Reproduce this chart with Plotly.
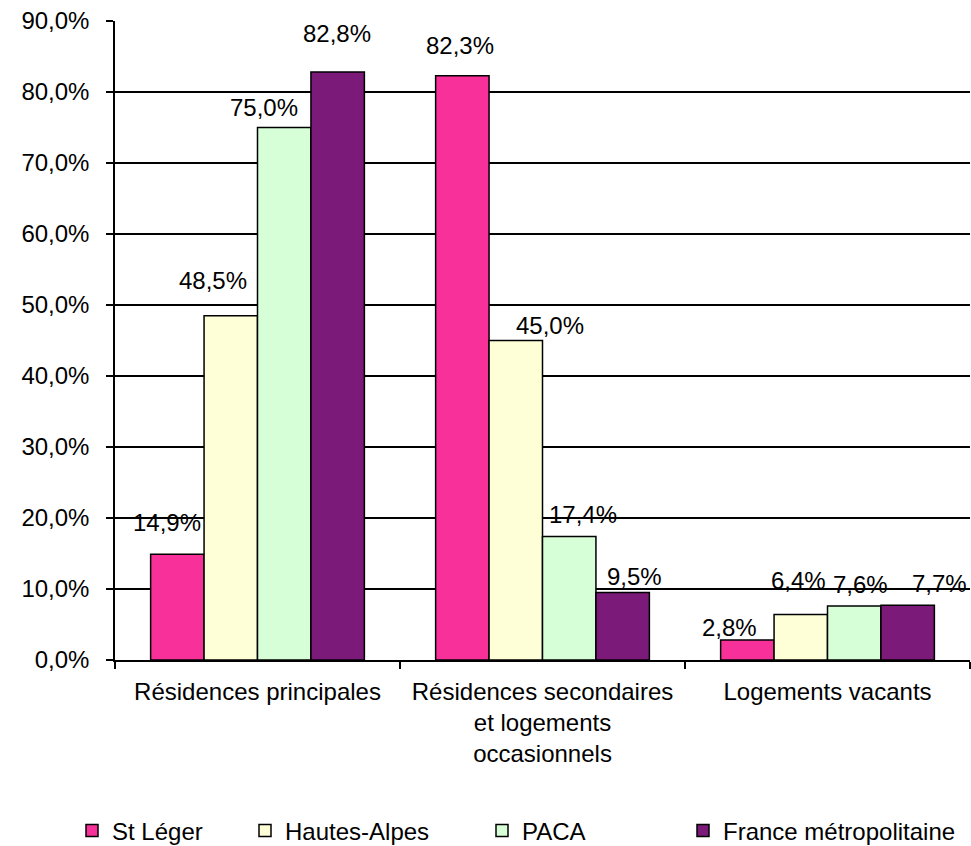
import plotly.graph_objects as go

categories = [
    "Résidences principales",
    "Résidences secondaires<br>et logements<br>occasionnels",
    "Logements vacants",
]
series_names = ["St Léger", "Hautes-Alpes", "PACA", "France métropolitaine"]
st_leger = [0.149, 0.823, 0.028]
hautes_alpes = [0.485, 0.450, 0.064]
paca = [0.750, 0.174, 0.076]
france = [0.828, 0.095, 0.077]
series_values = [st_leger, hautes_alpes, paca, france]
y_ticks = [0, 0.1, 0.2, 0.3, 0.4, 0.5, 0.6, 0.7, 0.8, 0.9]

colors = ["#F7309A", "#FFFFD7", "#D7FFD7", "#7B1A78"]

# label placement offsets in pixels (style), per series then category
label_dx = [[-10, -2, -18], [-18, 34, -2], [-20, 14, 6], [-1, 12, 32]]
label_dy = [[32, 30, 13], [35, 15, 34], [20, 22, 22], [39, 16, 22]]
# legend entry left edges in pixels (style)
legend_px = [72, 245, 482, 683]

FONT = "Liberation Sans, Arial, sans-serif"
FS = 24

W, H = 971, 846
ML, MR, MT, MB = 115, 1, 21, 186
plot_w = W - ML - MR
plot_h = H - MT - MB
bargap = 0.25
bar_px = plot_w / len(categories) * (1 - bargap) / len(series_names)
legend_y = -(831 - (H - MB)) / plot_h

fig = go.Figure()
legend_ids = ["legend", "legend2", "legend3", "legend4"]
for i, (name, vals) in enumerate(zip(series_names, series_values)):
    fig.add_trace(go.Bar(
        name=name, x=categories, y=vals,
        marker=dict(color=colors[i], line=dict(color="black", width=1.5)),
        legend=legend_ids[i],
    ))

annotations = []
for i, vals in enumerate(series_values):
    for j, v in enumerate(vals):
        annotations.append(dict(
            x=categories[j], y=v, xref="x", yref="y",
            text=f"{v*100:.1f}%".replace(".", ","),
            showarrow=False, xanchor="center", yanchor="middle",
            xshift=(i - (len(series_names) - 1) / 2) * bar_px + label_dx[i][j],
            yshift=label_dy[i][j],
            font=dict(family=FONT, size=FS, color="black"),
        ))

legend_layout = {}
for i, lid in enumerate(legend_ids):
    legend_layout[lid] = dict(
        orientation="h", x=(legend_px[i] - ML) / plot_w, xanchor="left",
        y=legend_y, yanchor="middle",
        font=dict(family=FONT, size=FS, color="black"),
        itemwidth=30, bgcolor="rgba(0,0,0,0)",
    )

fig.update_layout(
    width=W, height=H,
    margin=dict(l=ML, r=MR, t=MT, b=MB, autoexpand=False),
    paper_bgcolor="white", plot_bgcolor="white",
    barmode="group", bargap=bargap, bargroupgap=0,
    separators=", ",
    font=dict(family=FONT, size=FS, color="black"),
    annotations=annotations,
    showlegend=True,
    **legend_layout,
)
fig.update_xaxes(
    showline=True, linecolor="black", linewidth=1.5,
    ticks="outside", tickson="boundaries", ticklen=7, tickwidth=1.5, tickcolor="black",
    showgrid=False, ticklabelstandoff=9,
    tickfont=dict(family=FONT, size=FS, color="black"),
)
fig.update_yaxes(
    range=[0, 0.9], tickvals=y_ticks, tickformat=".1%",
    showline=True, linecolor="black", linewidth=1.5,
    ticks="outside", ticklen=7, tickwidth=1.5, tickcolor="black",
    showgrid=True, gridcolor="black", gridwidth=1.5,
    zeroline=False, ticklabelstandoff=12,
    tickfont=dict(family=FONT, size=FS, color="black"),
)

fig.write_html("out.html")
